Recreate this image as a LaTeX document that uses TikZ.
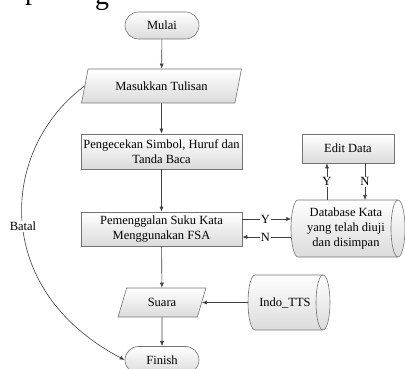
\documentclass[tikz,border=0pt]{standalone}
\usepackage{fontspec}
\setmainfont{Liberation Serif}
\usetikzlibrary{arrows.meta,shapes.geometric}
\begin{document}
\begin{tikzpicture}[x=1pt,y=1pt,
  lblfont/.style={font=\fontsize{12.5}{15}\selectfont},
  box/.style={draw=black!55, line width=0.6pt, top color=white, bottom color=black!14, lblfont, align=center, inner sep=0pt},
  proc/.style={box, rectangle, minimum width=161pt, minimum height=34pt},
  term/.style={box, rectangle, rounded corners=13.5pt, minimum width=74pt, minimum height=27pt},
  iobox/.style={box, trapezium, trapezium stretches=true},
  cylsty/.style={draw=black!55, line width=0.6pt, top color=white, bottom color=black!14},
  arr/.style={-{Latex[length=5pt,width=4pt]}, draw=black!75, line width=0.6pt},
  lab/.style={lblfont, fill=white, inner sep=1pt},
  txt/.style={lblfont, align=center, inner sep=0pt},
  frag/.style={font=\fontsize{28}{28}\selectfont, anchor=south west, inner sep=0pt, outer sep=0pt}
]
\useasboundingbox (0,0) rectangle (405,369);
\clip (0,0) rectangle (405,369);

% clipped fragment of text above
\node[frag] (frp) at (25,364) {p};
\node[frag] (frg) at (95,358) {g};

% main column
\node[term] (mulai) at (162,343.5) {Mulai};
\node[iobox, trapezium left angle=65, trapezium right angle=115, minimum width=161pt, minimum height=34pt] (masuk) at (161.5,283) {Masukkan Tulisan};
\node[proc, minimum height=35pt] (cek) at (161.5,217.5) {Pengecekan Simbol, Huruf dan\\Tanda Baca};
\node[proc] (penggal) at (161.5,140) {Pemenggalan Suku Kata\\Menggunakan FSA};
\node[iobox, trapezium left angle=67.5, trapezium right angle=112.5, minimum width=88pt, minimum height=29pt] (suara) at (162,66.5) {Suara};
\node[term] (finish) at (162,9) {Finish};

% Edit Data
\node[box, rectangle, minimum width=92pt, minimum height=29pt] (edit) at (348,220.5) {Edit Data};

% Database cylinder
\draw[cylsty] (298,169) -- (398,169) arc[start angle=90,end angle=-90,x radius=7,y radius=28.5] -- (298,112) arc[start angle=270,end angle=90,x radius=7,y radius=28.5] -- cycle;
\draw[draw=black!55, line width=0.6pt] (398,169) arc[start angle=90,end angle=270,x radius=7,y radius=28.5];
\node[txt] (db) at (346,140.5) {Database Kata\\yang telah diuji\\dan disimpan};
\coordinate (dbY) at (291.4,150);
\coordinate (dbN) at (291.4,132);
\coordinate (dbT1) at (327,169);
\coordinate (dbT2) at (365,169);

% Indo_TTS cylinder
\draw[cylsty] (255,94) -- (323,94) arc[start angle=90,end angle=-90,x radius=7,y radius=27.5] -- (255,39) arc[start angle=270,end angle=90,x radius=7,y radius=27.5] -- cycle;
\draw[draw=black!55, line width=0.6pt] (323,94) arc[start angle=90,end angle=270,x radius=7,y radius=27.5];
\node[txt] (indo) at (285,66.5) {Indo\_TTS};
\coordinate (indoW) at (248,66.5);

% main flow arrows
\draw[arr] (mulai) -- (masuk);
\draw[arr] (masuk) -- (cek);
\draw[arr] (cek) -- (penggal);
\draw[arr] (penggal) -- (suara);
\draw[arr] (suara) -- (finish);

% database links
\draw[arr] (penggal.east |- dbY) -- node[lab, pos=0.47] {Y} (dbY);
\draw[arr] (dbN) -- node[lab, pos=0.53] {N} (penggal.east |- dbN);
\draw[arr] (dbT1) -- node[lab] {Y} (dbT1 |- edit.south);
\draw[arr] (dbT2 |- edit.south) -- node[lab] {N} (dbT2);

% Indo_TTS to Suara
\draw[arr] (indoW) -- (suara.east);

% Batal
\draw[arr] (masuk.west) .. controls (0,220) and (-10,80) .. (finish.west) node[lab, pos=0.52] {Batal};
\end{tikzpicture}
\end{document}
